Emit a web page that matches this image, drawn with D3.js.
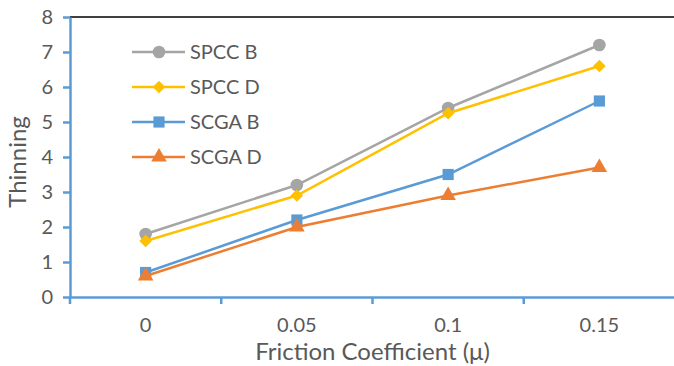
<!DOCTYPE html>
<html>
<head>
<meta charset="utf-8">
<script src="https://cdn.jsdelivr.net/npm/d3@7"></script>
<style>
  body { margin: 0; background: #fff; }
  text { font-family: Lato, "Open Sans", sans-serif; fill: #595959; }
</style>
</head>
<body>
<svg id="chart" width="674" height="366"></svg>
<script>
var categories = ["0", "0.05", "0.1", "0.15"];
var yTicks = [0, 1, 2, 3, 4, 5, 6, 7, 8];
var seriesNames = ["SPCC B", "SPCC D", "SCGA B", "SCGA D"];
var spccB = [1.8, 3.2, 5.4, 7.2];
var spccD = [1.6, 2.9, 5.25, 6.6];
var scgaB = [0.7, 2.2, 3.5, 5.6];
var scgaD = [0.6, 2.0, 2.9, 3.7];
var colors = ["#A5A5A5", "#FFC000", "#5B9BD5", "#ED7D31"];

// square diamond (rotated square), like Excel's marker
var squareDiamond = {
  draw: function (ctx, size) {
    var r = Math.sqrt(size / 2);
    ctx.moveTo(0, -r);
    ctx.lineTo(r, 0);
    ctx.lineTo(0, r);
    ctx.lineTo(-r, 0);
    ctx.closePath();
  }
};
var symbols = [d3.symbolCircle, squareDiamond, d3.symbolSquare, d3.symbolTriangle];
var symSizes = [125, 80, 125, 105];

var series = [spccB, spccD, scgaB, scgaD].map(function (vals, i) {
  return { name: seriesNames[i], values: vals, color: colors[i], symbol: symbols[i], size: symSizes[i] };
});

var svg = d3.select("#chart");
var mLeft = 70, mRight = 675, mTop = 17, mBottom = 297;

var x = d3.scaleBand().domain(categories).range([mLeft, mRight]);
var y = d3.scaleLinear().domain([0, 8]).range([mBottom, mTop]);

// top border
svg.append("line")
  .attr("x1", mLeft).attr("x2", 674)
  .attr("y1", mTop).attr("y2", mTop)
  .attr("stroke", "#000").attr("stroke-width", 1.5);

// y axis
var yAxis = svg.append("g")
  .attr("transform", "translate(" + mLeft + ",0)")
  .call(d3.axisLeft(y).tickValues(yTicks).tickSize(7).tickPadding(10).tickSizeOuter(0));
yAxis.select(".domain").attr("stroke", "#5B9BD5").attr("stroke-width", 2.5);
yAxis.selectAll(".tick line").attr("stroke", "#5B9BD5").attr("stroke-width", 2.5);
yAxis.selectAll(".tick text").style("font-size", "20px").attr("fill", "#595959");

// x axis
var xAxis = svg.append("g")
  .attr("transform", "translate(0," + mBottom + ")")
  .call(d3.axisBottom(x).tickSize(0).tickPadding(21));
xAxis.select(".domain").attr("stroke", "#5B9BD5").attr("stroke-width", 2.5);
xAxis.selectAll(".tick text").style("font-size", "20px").attr("fill", "#595959");
// tick marks between categories
var bounds = categories.map(function (c) { return x(c); });
svg.append("g").selectAll("line")
  .data(bounds)
  .enter().append("line")
  .attr("x1", d => d).attr("x2", d => d)
  .attr("y1", mBottom).attr("y2", mBottom + 7)
  .attr("stroke", "#5B9BD5").attr("stroke-width", 2.5);

var cx = d => x(d) + x.bandwidth() / 2;

var line = d3.line()
  .x((d, i) => cx(categories[i]))
  .y(d => y(d));

var g = svg.append("g").selectAll("g")
  .data(series)
  .enter().append("g");

g.append("path")
  .attr("d", d => line(d.values))
  .attr("fill", "none")
  .attr("stroke", d => d.color)
  .attr("stroke-width", 2.5);

g.each(function (s) {
  d3.select(this).selectAll("path.m")
    .data(s.values)
    .enter().append("path")
    .attr("class", "m")
    .attr("d", d3.symbol().type(s.symbol).size(s.size))
    .attr("transform", (d, i) => "translate(" + cx(categories[i]) + "," + y(d) + ")")
    .attr("fill", s.color);
});

// legend
var leg = svg.append("g").selectAll("g")
  .data(series)
  .enter().append("g")
  .attr("transform", (d, i) => "translate(132," + (52 + i * 35) + ")");
leg.append("line")
  .attr("x1", 0).attr("x2", 53)
  .attr("stroke", d => d.color).attr("stroke-width", 2.5);
leg.append("path")
  .attr("d", d => d3.symbol().type(d.symbol).size(d.size)())
  .attr("transform", "translate(27,0)")
  .attr("fill", d => d.color);
leg.append("text")
  .attr("x", 58).attr("y", 7)
  .style("font-size", "20px")
  .text(d => d.name);

// axis titles
svg.append("text")
  .attr("x", (mLeft + mRight) / 2).attr("y", 360)
  .attr("text-anchor", "middle")
  .style("font-size", "24px")
  .text("Friction Coefficient (\u03bc)");

svg.append("text")
  .attr("transform", "translate(26,162) rotate(-90)")
  .attr("text-anchor", "middle")
  .style("font-size", "24px")
  .text("Thinning");
</script>
</body>
</html>
